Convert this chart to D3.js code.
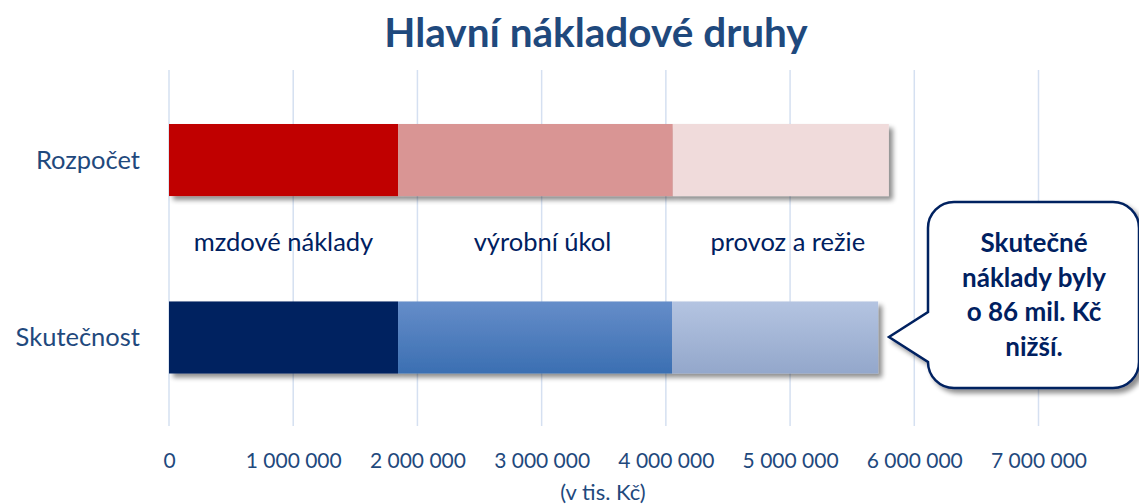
<!DOCTYPE html>
<html>
<head>
<meta charset="utf-8">
<script src="https://cdn.jsdelivr.net/npm/d3@7"></script>
<style>
  html, body { margin: 0; padding: 0; background: #fff; }
  svg { display: block; font-family: Lato, 'Open Sans', sans-serif; }
</style>
</head>
<body>
<div id="chart"></div>
<script>
const categories = ['Rozpočet', 'Skutečnost']
const seriesNames = ['mzdové náklady', 'výrobní úkol', 'provoz a režie']
const mzdove = [1844000, 1844000]
const vyrobni = [2212000, 2206000]
const provoz = [1739000, 1659000]
const xTicks = [0, 1000000, 2000000, 3000000, 4000000, 5000000, 6000000, 7000000]
const calloutLines = ['Skutečné', 'náklady byly', 'o 86 mil. Kč', 'nižší.']

const width = 1139
const height = 504
const textColor = '#1f497d'
const navy = '#002060'

const rows = categories.map((c, i) => ({
  cat: c, m: mzdove[i], v: vyrobni[i], p: provoz[i]
}))
const stack = d3.stack().keys(['m', 'v', 'p'])(rows)

const x = d3.scaleLinear().domain([0, 7000000]).range([169, 1038.5])
const y = d3.scaleBand().domain(categories).range([124, 373.5]).paddingInner(0.594).paddingOuter(0)

const svg = d3.select('#chart').append('svg')
  .attr('width', width)
  .attr('height', height)

const defs = svg.append('defs')

/* soft drop shadow like the office chart */
const shadow = defs.append('filter').attr('id', 'shadow')
  .attr('x', '-10%').attr('y', '-20%').attr('width', '130%').attr('height', '150%')
shadow.append('feGaussianBlur').attr('in', 'SourceAlpha').attr('stdDeviation', 2.5).attr('result', 'blur')
shadow.append('feOffset').attr('dx', 4).attr('dy', 4).attr('result', 'off')
shadow.append('feComponentTransfer').append('feFuncA').attr('type', 'linear').attr('slope', 0.45)
const fm = shadow.append('feMerge')
fm.append('feMergeNode')
fm.append('feMergeNode').attr('in', 'SourceGraphic')

function vGrad(id, top, bottom) {
  const g = defs.append('linearGradient').attr('id', id)
    .attr('x1', 0).attr('y1', 0).attr('x2', 0).attr('y2', 1)
  g.append('stop').attr('offset', '0%').attr('stop-color', top)
  g.append('stop').attr('offset', '100%').attr('stop-color', bottom)
}
vGrad('blueMid', '#658dc9', '#3b6fb2')
vGrad('blueLight', '#b4c4e1', '#93a7cb')

const fills = {
  'Rozpočet': ['#c00000', '#d99594', '#f0dbdb'],
  'Skutečnost': [navy, 'url(#blueMid)', 'url(#blueLight)']
}

/* title */
svg.append('text')
  .attr('x', 596).attr('y', 47)
  .attr('text-anchor', 'middle')
  .attr('fill', textColor)
  .attr('font-size', 40.5)
  .attr('font-weight', 700)
  .text('Hlavní nákladové druhy')

/* gridlines */
svg.append('g')
  .selectAll('line')
  .data(xTicks)
  .join('line')
  .attr('x1', d => x(d)).attr('x2', d => x(d))
  .attr('y1', 70).attr('y2', 426)
  .attr('stroke', '#d5e0f1')
  .attr('stroke-width', 1.5)

/* x axis labels */
const xAxis = d3.axisBottom(x)
  .tickValues(xTicks)
  .tickSize(0)
  .tickPadding(0)
  .tickFormat(d => d3.format(',')(d).replace(/,/g, ' '))
const ax = svg.append('g').attr('transform', 'translate(0,453)').call(xAxis)
ax.select('.domain').remove()
ax.selectAll('text')
  .attr('fill', textColor)
  .attr('font-size', 21)
  .attr('font-family', 'Lato, sans-serif')

svg.append('text')
  .attr('x', 603).attr('y', 500)
  .attr('text-anchor', 'middle')
  .attr('fill', textColor)
  .attr('font-size', 22)
  .text('(v tis. Kč)')

/* category labels */
svg.append('g')
  .selectAll('text')
  .data(categories)
  .join('text')
  .attr('x', 140)
  .attr('y', d => y(d) + y.bandwidth() / 2)
  .attr('dy', '0.35em')
  .attr('text-anchor', 'end')
  .attr('fill', textColor)
  .attr('font-size', 25.5)
  .text(d => d)

/* bars, one shadowed group per category */
const barGroups = svg.append('g')
  .selectAll('g')
  .data(rows)
  .join('g')
  .attr('filter', 'url(#shadow)')

barGroups.selectAll('rect')
  .data(r => stack.map((s, k) => ({ cat: r.cat, k, d: s.find(q => q.data.cat === r.cat) })))
  .join('rect')
  .attr('x', d => x(d.d[0]))
  .attr('width', d => x(d.d[1]) - x(d.d[0]))
  .attr('y', d => y(d.cat))
  .attr('height', y.bandwidth())
  .attr('fill', d => fills[d.cat][d.k])

/* segment names between the bars */
const budget = stack.map(s => s[0])
svg.append('g')
  .selectAll('text')
  .data(seriesNames)
  .join('text')
  .attr('x', (d, i) => (x(budget[i][0]) + x(budget[i][1])) / 2 + (i ? 7 : 0))
  .attr('y', 242)
  .attr('dy', '0.35em')
  .attr('text-anchor', 'middle')
  .attr('fill', navy)
  .attr('font-size', 25.5)
  .text(d => d)

/* callout bubble */
const bx = 928, by = 202, bw = 211, bh = 186, r = 26
const tipX = 889, tipY = 337, baseTop = 312, baseBot = 362
const path = d3.path()
path.moveTo(bx + r, by)
path.lineTo(bx + bw - r, by)
path.arcTo(bx + bw, by, bx + bw, by + r, r)
path.lineTo(bx + bw, by + bh - r)
path.arcTo(bx + bw, by + bh, bx + bw - r, by + bh, r)
path.lineTo(bx + r, by + bh)
path.arcTo(bx, by + bh, bx, by + bh - r, r)
path.lineTo(bx, baseBot)
path.lineTo(tipX, tipY)
path.lineTo(bx, baseTop)
path.lineTo(bx, by + r)
path.arcTo(bx, by, bx + r, by, r)
path.closePath()

svg.append('path')
  .attr('d', path.toString())
  .attr('fill', '#fff')
  .attr('stroke', navy)
  .attr('stroke-width', 2.5)
  .attr('filter', 'url(#shadow)')

svg.append('g')
  .selectAll('text')
  .data(calloutLines)
  .join('text')
  .attr('x', 1034)
  .attr('y', (d, i) => 243 + i * 34.5)
  .attr('dy', '0.35em')
  .attr('text-anchor', 'middle')
  .attr('fill', navy)
  .attr('font-size', 26)
  .attr('font-weight', 700)
  .text(d => d)
</script>
</body>
</html>
